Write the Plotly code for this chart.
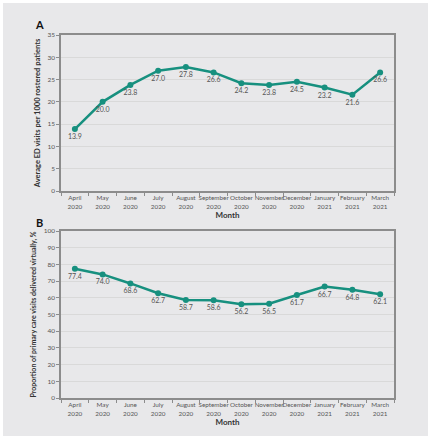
import plotly.graph_objects as go
from plotly.subplots import make_subplots

months = ["April<br>2020", "May<br>2020", "June<br>2020", "July<br>2020", "August<br>2020",
          "September<br>2020", "October<br>2020", "November<br>2020", "December<br>2020",
          "January<br>2021", "February<br>2021", "March<br>2021"]
ed_visits = [13.9, 20.0, 23.8, 27.0, 27.8, 26.6, 24.2, 23.8, 24.5, 23.2, 21.6, 26.6]
virtual_pct = [77.4, 74.0, 68.6, 62.7, 58.7, 58.6, 56.2, 56.5, 61.7, 66.7, 64.8, 62.1]

teal = "#17907f"
font_fam = "Lato, 'Open Sans', sans-serif"

fig = make_subplots(rows=2, cols=1, vertical_spacing=0.11)

for row, vals in [(1, ed_visits), (2, virtual_pct)]:
    fig.add_trace(go.Scatter(
        x=months, y=vals, mode="lines+markers+text",
        text=[f"{v:.1f}" for v in vals], textposition="bottom center",
        textfont=dict(size=7, color="#555555", family=font_fam),
        line=dict(color=teal, width=2.5),
        marker=dict(color=teal, size=6),
        showlegend=False, cliponaxis=False, hoverinfo="skip",
    ), row=row, col=1)

axis_common = dict(showline=True, linecolor="#8c8c8c", linewidth=1.5, mirror=True, automargin=False)

fig.update_xaxes(**axis_common, type="category", range=[-0.5, 11.5], tickson="boundaries",
                 ticks="outside", ticklen=3, tickcolor="#8c8c8c", showgrid=False, tickangle=0,
                 tickfont=dict(size=6.3, color="#555555", family=font_fam))
for r in (1, 2):
    fig.update_xaxes(title=dict(text="<b>Month</b>", font=dict(size=8, color="#333333", family=font_fam),
                                standoff=4), row=r, col=1)

fig.update_yaxes(**axis_common, ticks="outside", ticklen=3, tickcolor="#8c8c8c",
                 showgrid=True, gridcolor="#d9d9d9", gridwidth=1, zeroline=False,
                 tickfont=dict(size=6.5, color="#555555", family=font_fam))
fig.update_yaxes(range=[0, 35], dtick=5, row=1, col=1,
                 title=dict(text="<b>Average ED visits per 1000 rostered patients</b>",
                            font=dict(size=7.5, color="#333333", family=font_fam), standoff=6))
fig.update_yaxes(range=[0, 100], dtick=10, row=2, col=1,
                 title=dict(text="<b>Proportion of primary care visits delivered virtually, %</b>",
                            font=dict(size=7, color="#333333", family=font_fam), standoff=6))

fig.update_layout(
    width=431, height=440,
    margin=dict(l=61, r=37, t=35, b=42),
    paper_bgcolor="white", plot_bgcolor="white",
    font=dict(family=font_fam),
    shapes=[dict(type="rect", xref="paper", yref="paper", layer="below",
                 x0=-58/333, x1=(428-61)/333, y0=-(436-398)/363, y1=1 + 32/363,
                 fillcolor="#e8e8ea", line=dict(width=0))],
    annotations=[
        dict(text="<b>A</b>", xref="paper", yref="paper", x=-22/333, y=1 + 10/363,
             xanchor="center", yanchor="middle", showarrow=False,
             font=dict(size=11, color="#111111", family=font_fam)),
        dict(text="<b>B</b>", xref="paper", yref="paper", x=-22/333, y=(398-222)/363,
             xanchor="center", yanchor="middle", showarrow=False,
             font=dict(size=11, color="#111111", family=font_fam)),
    ],
)
fig.update_yaxes(domain=[(398-191)/363, 1], row=1, col=1)
fig.update_yaxes(domain=[0, (398-231)/363], row=2, col=1)

fig.write_html("out.html", config={"displayModeBar": False},
               post_script="document.body.style.margin='0';document.body.style.overflow='hidden';")
